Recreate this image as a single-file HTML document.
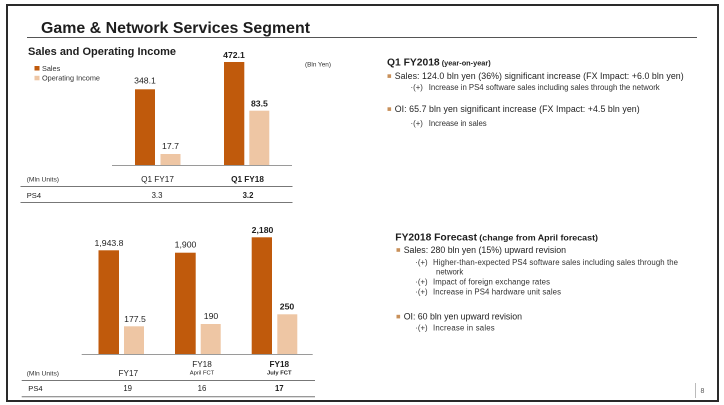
<!DOCTYPE html>
<html>
<head>
<meta charset="utf-8">
<style>
  html, body { margin:0; padding:0; background:#fff; }
  svg { display:block; }
  text { font-family: "Liberation Sans", Arial, sans-serif; fill:#1e1e1e; }
  .b { font-weight:bold; }
  .sub { fill:#333; }
</style>
</head>
<body>
<svg width="724" height="405" viewBox="0 0 724 405" xmlns="http://www.w3.org/2000/svg">
  <rect x="0" y="0" width="724" height="405" fill="#fff"/>
  <!-- frame -->
  <rect x="7" y="5" width="711" height="396" fill="none" stroke="#2a2a2a" stroke-width="2"/>

  <!-- title -->
  <text x="41" y="33" class="b" font-size="16" textLength="269" lengthAdjust="spacingAndGlyphs">Game &amp; Network Services Segment</text>
  <line x1="27" y1="37.5" x2="697" y2="37.5" stroke="#555" stroke-width="1"/>

  <!-- ===== Top-left chart ===== -->
  <text x="28" y="55" class="b" font-size="11" textLength="148" lengthAdjust="spacingAndGlyphs">Sales and Operating Income</text>
  <rect x="34.5" y="66" width="5" height="4.5" fill="#C05A0C"/>
  <text x="42" y="70.8" font-size="7.3" class="sub">Sales</text>
  <rect x="34.5" y="75.8" width="5" height="4.5" fill="#EEC6A4"/>
  <text x="42" y="80.6" font-size="7.3" class="sub" textLength="58" lengthAdjust="spacingAndGlyphs">Operating Income</text>
  <text x="305" y="66.5" font-size="6.5" class="sub" textLength="26" lengthAdjust="spacingAndGlyphs">(Bln Yen)</text>

  <rect x="135" y="89.3" width="20" height="75.7" fill="#C05A0C"/>
  <rect x="160.5" y="154" width="20" height="11" fill="#EEC6A4"/>
  <rect x="224" y="62" width="20.3" height="103" fill="#C05A0C"/>
  <rect x="249.3" y="110.7" width="20" height="54.3" fill="#EEC6A4"/>
  <line x1="112" y1="165.5" x2="292" y2="165.5" stroke="#9a9a9a" stroke-width="1"/>

  <text x="145" y="83.5" font-size="8.7" text-anchor="middle">348.1</text>
  <text x="170.5" y="149" font-size="8.7" text-anchor="middle">17.7</text>
  <text x="234" y="58" font-size="8.7" class="b" text-anchor="middle">472.1</text>
  <text x="259.4" y="106.3" font-size="8.7" class="b" text-anchor="middle">83.5</text>

  <text x="26.7" y="181.6" font-size="6.7" class="sub">(Mln Units)</text>
  <text x="157.5" y="182" font-size="8.2" text-anchor="middle">Q1 FY17</text>
  <text x="247.5" y="182" font-size="8.2" class="b" text-anchor="middle">Q1 FY18</text>
  <line x1="20.5" y1="186.5" x2="292.5" y2="186.5" stroke="#777" stroke-width="1"/>
  <text x="26.7" y="197.8" font-size="7.6">PS4</text>
  <text x="157" y="197.8" font-size="7.8" text-anchor="middle">3.3</text>
  <text x="248" y="197.8" font-size="7.8" class="b" text-anchor="middle">3.2</text>
  <line x1="20.5" y1="202.5" x2="292.5" y2="202.5" stroke="#777" stroke-width="1"/>

  <!-- ===== Top-right text ===== -->
  <text x="387" y="65.7" class="b" font-size="10.3">Q1 FY2018</text>
  <text x="441.7" y="65.7" class="b" font-size="7.6" textLength="49" lengthAdjust="spacingAndGlyphs">(year-on-year)</text>
  <rect x="387.5" y="74.3" width="3.6" height="3.6" fill="#C8905A"/>
  <text x="394.7" y="79.1" font-size="8.8" textLength="289" lengthAdjust="spacing">Sales: 124.0 bln yen (36%) significant increase (FX Impact:  +6.0 bln yen)</text>
  <text x="410.5" y="90" font-size="7.8" class="sub">·(+)</text>
  <text x="428.7" y="90" font-size="7.8" class="sub" textLength="231" lengthAdjust="spacing">Increase in PS4 software sales including sales through the network</text>
  <rect x="387.5" y="107.3" width="3.6" height="3.6" fill="#C8905A"/>
  <text x="394.7" y="112.1" font-size="8.8" textLength="245" lengthAdjust="spacing">OI: 65.7 bln yen significant increase (FX Impact:  +4.5 bln yen)</text>
  <text x="410.5" y="126" font-size="7.8" class="sub">·(+)</text>
  <text x="428.7" y="126" font-size="7.8" class="sub" textLength="58" lengthAdjust="spacing">Increase in sales</text>

  <!-- ===== Bottom-left chart ===== -->
  <rect x="98.5" y="250.3" width="20.5" height="104" fill="#C05A0C"/>
  <rect x="124" y="326.3" width="20" height="28" fill="#EEC6A4"/>
  <rect x="175" y="252.7" width="20.7" height="101.6" fill="#C05A0C"/>
  <rect x="200.7" y="324" width="20" height="30.3" fill="#EEC6A4"/>
  <rect x="251.7" y="237.3" width="20.3" height="117" fill="#C05A0C"/>
  <rect x="277.3" y="314.3" width="20" height="40" fill="#EEC6A4"/>
  <line x1="81.7" y1="354.5" x2="312.7" y2="354.5" stroke="#9a9a9a" stroke-width="1"/>

  <text x="109" y="246" font-size="8.7" text-anchor="middle">1,943.8</text>
  <text x="135" y="322" font-size="8.7" text-anchor="middle">177.5</text>
  <text x="185.5" y="247.7" font-size="8.7" text-anchor="middle">1,900</text>
  <text x="211" y="319" font-size="8.7" text-anchor="middle">190</text>
  <text x="262.5" y="233" font-size="8.7" class="b" text-anchor="middle">2,180</text>
  <text x="287" y="309.7" font-size="8.7" class="b" text-anchor="middle">250</text>

  <text x="26.7" y="375.6" font-size="6.7" class="sub">(Mln Units)</text>
  <text x="128.3" y="376.2" font-size="8.2" text-anchor="middle">FY17</text>
  <text x="202" y="367" font-size="8.2" text-anchor="middle">FY18</text>
  <text x="202" y="374.5" font-size="5.8" text-anchor="middle">April FCT</text>
  <text x="279.3" y="367" font-size="8.2" class="b" text-anchor="middle">FY18</text>
  <text x="279.3" y="374.5" font-size="5.8" class="b" text-anchor="middle">July FCT</text>
  <line x1="21.7" y1="380.5" x2="315" y2="380.5" stroke="#777" stroke-width="1"/>
  <text x="28.3" y="391" font-size="7.6">PS4</text>
  <text x="127.7" y="391" font-size="7.8" text-anchor="middle">19</text>
  <text x="202" y="391" font-size="7.8" text-anchor="middle">16</text>
  <text x="279.3" y="391" font-size="7.8" class="b" text-anchor="middle">17</text>
  <line x1="21.7" y1="396.7" x2="315" y2="396.7" stroke="#777" stroke-width="1"/>

  <!-- ===== Bottom-right text ===== -->
  <text x="395.3" y="240.4" class="b" font-size="10.3" textLength="81.7" lengthAdjust="spacing">FY2018 Forecast</text>
  <text x="479.3" y="240.4" class="b" font-size="7.8" textLength="118.7" lengthAdjust="spacingAndGlyphs">(change from April forecast)</text>
  <rect x="396.5" y="248.2" width="3.6" height="3.6" fill="#C8905A"/>
  <text x="403.7" y="253.1" font-size="8.8" textLength="162.3" lengthAdjust="spacing">Sales: 280 bln yen (15%) upward revision</text>
  <text x="415.3" y="265" font-size="7.8" class="sub">·(+)</text>
  <text x="433" y="265" font-size="7.8" class="sub" textLength="245" lengthAdjust="spacing">Higher-than-expected PS4 software sales including sales through the</text>
  <text x="436" y="274.5" font-size="7.8" class="sub">network</text>
  <text x="415.3" y="284.4" font-size="7.8" class="sub">·(+)</text>
  <text x="433" y="284.4" font-size="7.8" class="sub" textLength="117" lengthAdjust="spacing">Impact of foreign exchange rates</text>
  <text x="415.3" y="294.7" font-size="7.8" class="sub">·(+)</text>
  <text x="433" y="294.7" font-size="7.8" class="sub" textLength="128" lengthAdjust="spacing">Increase in PS4 hardware unit sales</text>
  <rect x="396.5" y="314.8" width="3.6" height="3.6" fill="#C8905A"/>
  <text x="403.7" y="319.7" font-size="8.8" textLength="118.3" lengthAdjust="spacing">OI: 60 bln yen upward revision</text>
  <text x="415.3" y="330.4" font-size="7.8" class="sub">·(+)</text>
  <text x="433" y="330.4" font-size="7.8" class="sub" textLength="61.7" lengthAdjust="spacing">Increase in sales</text>

  <!-- page number -->
  <line x1="695.5" y1="383" x2="695.5" y2="398" stroke="#bbb" stroke-width="1"/>
  <text x="700.5" y="393" font-size="7" style="fill:#555">8</text>
</svg>
</body>
</html>
